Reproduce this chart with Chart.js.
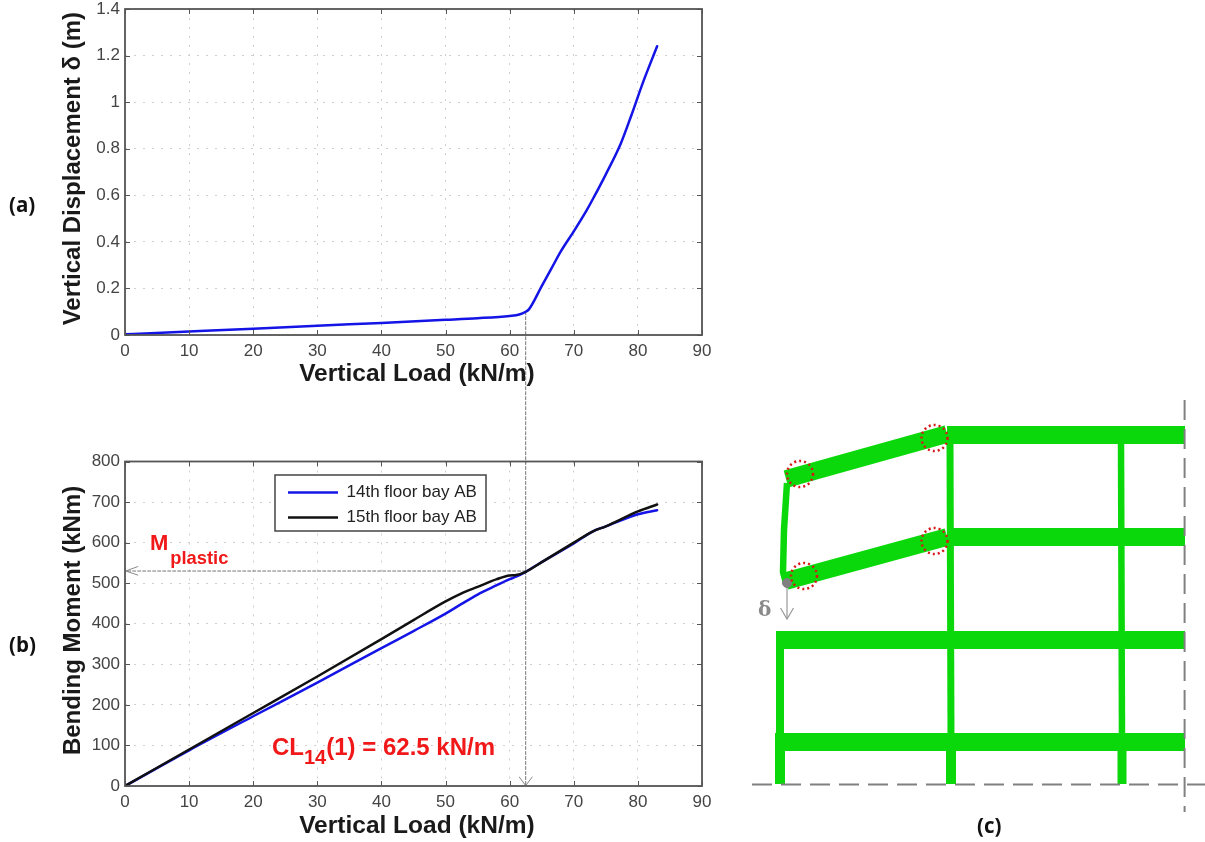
<!DOCTYPE html>
<html>
<head>
<meta charset="utf-8">
<title>Vertical load response</title>
<script src="https://cdn.jsdelivr.net/npm/chart.js@4"></script>
<style>
  html, body { margin: 0; padding: 0; background: #fff; }
  #page { position: relative; width: 1205px; height: 842px; overflow: hidden; filter: blur(0.4px); }
  canvas { position: absolute; }
  #chart_a { left: 0; top: -10px; }
  #chart_b { left: 0; top: 440px; }
  #chart_c { left: 740px; top: 390px; }
  .note { position: absolute; white-space: nowrap; line-height: 1; }
  .panel { font: bold 20.5px "Open Sans", sans-serif; color: #111; }
  .red { font: bold 24px "Liberation Sans", sans-serif; color: #f01818; }
  .red sub { line-height: 0; vertical-align: -9px; }
  .plastic { font: bold 22px "Liberation Sans", sans-serif; color: #f01818; }
  .plastic sub { line-height: 0; vertical-align: -14px; margin-left: 2px; }
  .delta { font: bold 20px "DejaVu Serif", serif; color: #8a8a8a; }
</style>
</head>
<body>
<div id="page">
  <canvas id="chart_a" width="720" height="475"></canvas>
  <canvas id="chart_b" width="720" height="402"></canvas>
  <canvas id="chart_c" width="465" height="452"></canvas>
  <span class="note panel" style="left:9px;top:190px">(a)</span>
  <span class="note panel" style="left:9px;top:630px">(b)</span>
  <span class="note panel" style="left:977px;top:811px">(c)</span>
  <span class="note plastic" style="left:150px;top:530px">M<sub>plastic</sub></span>
  <span class="note red" style="left:272px;top:733px">CL<sub>14</sub>(1) = 62.5 kN/m</span>
  <span class="note delta" style="left:758px;top:597px">δ</span>
</div>
<script>
Chart.defaults.animation = false;
Chart.defaults.font.family = '"Liberation Sans", Arial, sans-serif';

const load_ticks = [0, 10, 20, 30, 40, 50, 60, 70, 80, 90];
const disp_ticks = [0, 0.2, 0.4, 0.6, 0.8, 1, 1.2, 1.4];
const moment_ticks = [0, 100, 200, 300, 400, 500, 600, 700, 800];

const disp_load = [0, 4, 10, 20, 30, 40, 50, 55, 60, 61.5, 62.5, 63, 65, 66.5, 68, 70, 72, 73, 75, 77.3, 79, 80.8, 83];
const disp_values = [0.003, 0.008, 0.015, 0.027, 0.04, 0.052, 0.065, 0.072, 0.082, 0.088, 0.1, 0.11, 0.21, 0.285, 0.36, 0.445, 0.535, 0.585, 0.69, 0.82, 0.945, 1.085, 1.24];

const moment_load = [0, 10, 20, 30, 40, 45, 50, 52.5, 55, 58, 60, 61, 62.5, 65, 70, 73, 75, 80, 83];
const floor14_values = [0, 88, 172, 255, 340, 382, 425, 449, 472, 495, 510, 516, 528, 552, 598, 628, 640, 670, 680];
const floor15_values = [0, 90, 180, 270, 362, 409, 455, 475, 491, 510, 519, 520, 528, 552, 600, 628, 640, 677, 694];

// guide lines between the two plots
const guide_a = [{x: 62.5, y: 0.1}, {x: 62.5, y: -0.55}];
const guide_b_v = [{x: 62.5, y: 800}, {x: 62.5, y: 0}];
const guide_b_h = [{x: 62.5, y: 530}, {x: 0, y: 530}];
const arrow_left = [{x: 2, y: 541}, {x: 0.1, y: 530}, {x: 2, y: 520}];
const arrow_down = [{x: 61.5, y: 22}, {x: 62.5, y: 1}, {x: 63.5, y: 22}];

// frame sketch, units of the hidden axes of panel (c)
const beam_roof = [{x: 207, y: 45}, {x: 445, y: 45}];
const beam_14 = [{x: 207, y: 147}, {x: 445, y: 147}];
const beam_13 = [{x: 36, y: 250}, {x: 445, y: 250}];
const beam_12 = [{x: 35, y: 352}, {x: 445, y: 352}];
const sag_roof = [{x: 46, y: 89}, {x: 207, y: 44}];
const sag_14 = [{x: 46, y: 191}, {x: 207, y: 147}];
const col_bent = [{x: 47, y: 93}, {x: 44, y: 140}, {x: 43, y: 182}, {x: 46, y: 193}];
const col_mid = [{x: 210, y: 50}, {x: 211, y: 352}];
const col_right = [{x: 381, y: 50}, {x: 382, y: 352}];
const col_left = [{x: 40, y: 250}, {x: 40, y: 352}];
const col_base_left = [{x: 40, y: 352}, {x: 40, y: 394}];
const col_base_mid = [{x: 211, y: 352}, {x: 211, y: 394}];
const col_base_right = [{x: 382, y: 352}, {x: 382, y: 394}];
const axis_h = [{x: 12, y: 394.5}, {x: 465, y: 394.5}];
const axis_v = [{x: 444.6, y: 10}, {x: 444.6, y: 422}];
const hinges = [{x: 60, y: 84}, {x: 194.5, y: 48}, {x: 64, y: 186}, {x: 194.5, y: 151}];
const tip_point = [{x: 47, y: 193}];
const tip_arrow = [{x: 47, y: 193}, {x: 47, y: 229}];
const tip_head = [{x: 40.5, y: 218}, {x: 47, y: 229}, {x: 53.5, y: 218}];

function pts(xs, ys) {
    return xs.map((x, i) => ({x: x, y: ys[i]}));
}

// MATLAB style box with inward ticks on all four sides
const axisFrame = {
    id: "axisFrame",
    afterDatasetsDraw(chart) {
        const {ctx, chartArea: a, scales} = chart;
        ctx.save();
        ctx.strokeStyle = "#555";
        ctx.lineWidth = 1;
        ctx.beginPath();
        scales.x.ticks.forEach(t => {
            const p = Math.round(scales.x.getPixelForValue(t.value)) + 0.5;
            ctx.moveTo(p, a.bottom); ctx.lineTo(p, a.bottom - 5);
            ctx.moveTo(p, a.top); ctx.lineTo(p, a.top + 5);
        });
        scales.y.ticks.forEach(t => {
            const p = Math.round(scales.y.getPixelForValue(t.value)) + 0.5;
            ctx.moveTo(a.left, p); ctx.lineTo(a.left + 5, p);
            ctx.moveTo(a.right, p); ctx.lineTo(a.right - 5, p);
        });
        ctx.stroke();
        ctx.lineWidth = 1.8;
        ctx.strokeRect(a.left, a.top, a.right - a.left, a.bottom - a.top);
        ctx.restore();
    }
};

// moves the legend into the plot and gives it a white box
const legendBox = {
    id: "legendBox",
    afterLayout(chart) {
        const lg = chart.legend;
        lg.left = 280; lg.right = 486; lg.top = 36; lg.bottom = 300;
        if (!lg._boxed) {
            const draw = lg.draw;
            lg.draw = function () {
                const c = chart.ctx;
                c.save();
                c.fillStyle = "#fff";
                c.fillRect(275, 35, 211, 56);
                c.strokeStyle = "#444";
                c.lineWidth = 1.5;
                c.strokeRect(275, 35, 211, 56);
                c.restore();
                draw.call(lg);
            };
            lg._boxed = true;
        }
    }
};

// dotted rings on the hinge dataset
const dottedRings = {
    id: "dottedRings",
    beforeDatasetDraw(chart, args) {
        if (chart.data.datasets[args.index].label === "hinges") chart.ctx.setLineDash([2, 3]);
    },
    afterDatasetDraw(chart, args) {
        if (chart.data.datasets[args.index].label === "hinges") chart.ctx.setLineDash([]);
    }
};

function plotOptions(xTicks, yMax, yTicks, yTitle, pad, xHeight, xTitlePad) {
    return {
        responsive: false,
        layout: {padding: pad},
        plugins: {legend: {display: false}, tooltip: {enabled: false}},
        elements: {point: {radius: 0}, line: {tension: 0, borderCapStyle: "round"}},
        scales: {
            x: {
                type: "linear", min: 0, max: 90,
                afterBuildTicks: s => { s.ticks = xTicks.map(v => ({value: v})); },
                afterFit: s => { s.height = xHeight; },
                ticks: {color: "#444", font: {size: 17}, padding: 6, maxRotation: 0, callback: v => String(v)},
                grid: {color: "#cfcfcf", lineWidth: 1, drawTicks: false},
                border: {display: false, dash: [2, 7]},
                title: {display: true, text: " Vertical Load (kN/m)", color: "#1a1a1a",
                    font: {size: 24.5, weight: "bold"}, padding: {top: 0, bottom: xTitlePad}}
            },
            y: {
                min: 0, max: yMax,
                afterBuildTicks: s => { s.ticks = yTicks.map(v => ({value: v})); },
                afterFit: s => { s.width = 125; },
                ticks: {color: "#444", font: {size: 17}, padding: 5, callback: v => String(v)},
                grid: {color: "#cfcfcf", lineWidth: 1, drawTicks: false},
                border: {display: false, dash: [2, 7]},
                title: {display: true, text: yTitle, color: "#1a1a1a",
                    font: {size: 24, weight: "bold"}, padding: {top: 59, bottom: 0}}
            }
        }
    };
}

const chart_a = new Chart(document.getElementById("chart_a"), {
    type: "line",
    data: {datasets: [{
        label: "Vertical displacement",
        data: pts(disp_load, disp_values),
        borderColor: "#1414e6", borderWidth: 2.5, cubicInterpolationMode: "monotone"
    }, {
        label: "guide",
        data: guide_a,
        borderColor: "#777", borderWidth: 1, borderDash: [3, 2], clip: false
    }]},
    options: plotOptions(load_ticks, 1.4, disp_ticks, " Vertical Displacement δ (m)",
        {top: 19, right: 18, bottom: 0, left: 0}, 130, 76),
    plugins: [axisFrame]
});

const options_b = plotOptions(load_ticks, 800, moment_ticks, " Bending Moment (kNm)",
    {top: 21.5, right: 18, bottom: 0, left: 0}, 56, 1);
options_b.plugins.legend = {
    display: true, position: "chartArea", align: "start",
    labels: {
        color: "#222", font: {size: 17}, padding: 8, usePointStyle: true,
        pointStyle: "line", pointStyleWidth: 50,
        filter: item => item.text.includes("floor"),
        sort: (a, b) => a.datasetIndex - b.datasetIndex
    }
};

const chart_b = new Chart(document.getElementById("chart_b"), {
    type: "line",
    data: {datasets: [{
        label: "14th floor bay AB",
        data: pts(moment_load, floor14_values),
        borderColor: "#1414e6", borderWidth: 2.5, order: 2, cubicInterpolationMode: "monotone"
    }, {
        label: "15th floor bay AB",
        data: pts(moment_load, floor15_values),
        borderColor: "#111", borderWidth: 2.5, order: 1, cubicInterpolationMode: "monotone"
    }, {
        label: "guide v", data: guide_b_v, borderColor: "#777", borderWidth: 1, borderDash: [3, 2], order: 3, clip: false
    }, {
        label: "guide h", data: guide_b_h, borderColor: "#777", borderWidth: 1, borderDash: [3, 2], order: 3
    }, {
        label: "arrow left", data: arrow_left, borderColor: "#888", borderWidth: 1, order: 3
    }, {
        label: "arrow down", data: arrow_down, borderColor: "#888", borderWidth: 1, order: 3
    }]},
    options: options_b,
    plugins: [axisFrame, legendBox]
});

const green = "#0ad80a";
const grey = "#808080";
function member(label, data, width) {
    return {label: label, data: data, borderColor: green, borderWidth: width, borderCapStyle: "butt", borderJoinStyle: "miter", order: 5};
}
function dashed(label, data, width) {
    return {label: label, data: data, borderColor: grey, borderWidth: width, borderDash: [20, 9], order: 4, borderCapStyle: "butt"};
}

const chart_c = new Chart(document.getElementById("chart_c"), {
    type: "line",
    data: {datasets: [
        member("beam roof", beam_roof, 18),
        member("beam 14", beam_14, 18),
        member("beam 13", beam_13, 18),
        member("beam 12", beam_12, 18),
        member("sag roof", sag_roof, 17.5),
        member("sag 14", sag_14, 17.5),
        member("column bent", col_bent, 6.5),
        member("column mid", col_mid, 7),
        member("column right", col_right, 6.5),
        member("column left", col_left, 8),
        member("base left", col_base_left, 10),
        member("base mid", col_base_mid, 10),
        member("base right", col_base_right, 9),
        dashed("axis h", axis_h, 2),
        dashed("axis v", axis_v, 2),
        {label: "hinges", data: hinges, showLine: false, pointRadius: 13, pointBorderColor: "#d81818", pointBackgroundColor: "rgba(0,0,0,0)", pointBorderWidth: 2.5, order: 1},
        {label: "tip", data: tip_point, showLine: false, pointRadius: 4.5, pointBackgroundColor: grey, pointBorderColor: grey, order: 2},
        {label: "tip arrow", data: tip_arrow, borderColor: "#999", borderWidth: 1.2, order: 3},
        {label: "tip head", data: tip_head, borderColor: "#999", borderWidth: 1.2, order: 3}
    ]},
    options: {
        responsive: false,
        layout: {padding: 0, autoPadding: false},
        plugins: {legend: {display: false}, tooltip: {enabled: false}},
        elements: {point: {radius: 0}, line: {tension: 0}},
        scales: {
            x: {type: "linear", display: false, min: 0, max: 465},
            y: {display: false, min: 0, max: 452, reverse: true}
        }
    },
    plugins: [dottedRings]
});
</script>
</body>
</html>
